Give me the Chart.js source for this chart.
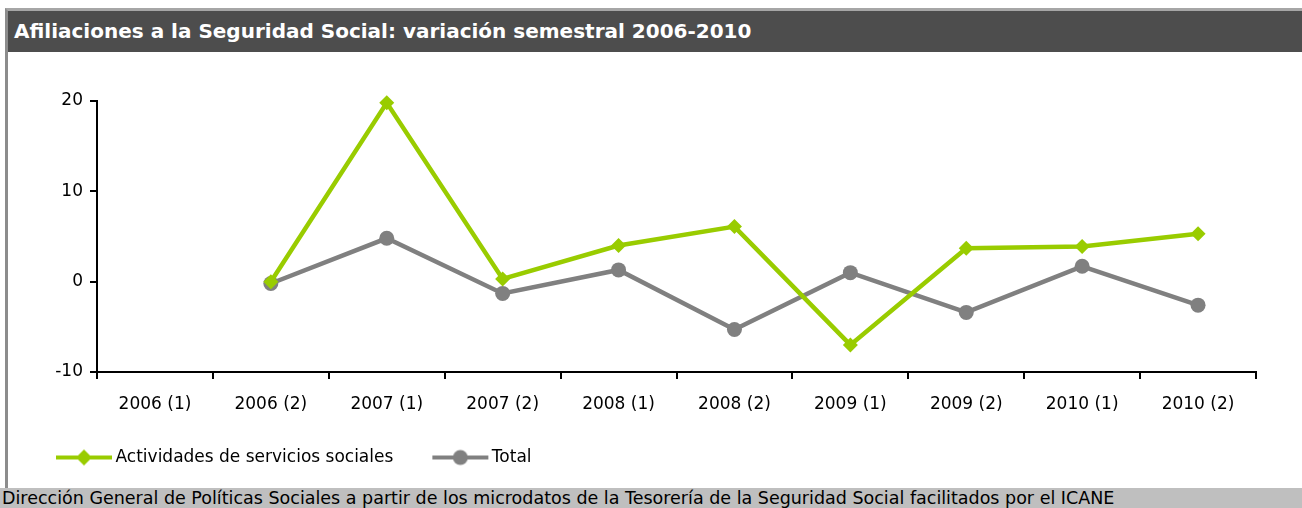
<!DOCTYPE html>
<html>
<head>
<meta charset="utf-8">
<script src="https://cdn.jsdelivr.net/npm/chart.js@4.4.1/dist/chart.umd.min.js"></script>
<style>
  html, body { margin: 0; padding: 0; background: #fff; }
  body { width: 1302px; height: 508px; position: relative; overflow: hidden; font-family: "DejaVu Sans", sans-serif; }
  #frame { position: absolute; left: 5px; top: 8px; width: 1297px; height: 480px; border-left: 3px solid #8c8c8c; border-top: 3px solid #a6a6a6; box-sizing: border-box; }
  #title { position: absolute; left: 8px; top: 11px; width: 1294px; height: 41px; background: #4d4d4d; color: #fff; font-weight: bold; font-size: 20px; line-height: 41px; padding-left: 6px; box-sizing: border-box; white-space: nowrap; }
  #wrap { position: absolute; left: 8px; top: 52px; width: 1294px; height: 436px; }
  #footer { position: absolute; left: 0; top: 488px; width: 1302px; height: 20px; background: #bfbfbf; color: #000; font-size: 17.5px; line-height: 21px; padding-left: 2px; box-sizing: border-box; white-space: nowrap; }
</style>
</head>
<body>
<div id="frame"></div>
<div id="title">Afiliaciones a la Seguridad Social: variación semestral 2006-2010</div>
<div id="wrap"><canvas id="chart" width="1294" height="436"></canvas></div>
<div id="footer">Dirección General de Políticas Sociales a partir de los microdatos de la Tesorería de la Seguridad Social facilitados por el ICANE</div>
<script>
const periods = ['2006 (1)', '2006 (2)', '2007 (1)', '2007 (2)', '2008 (1)', '2008 (2)', '2009 (1)', '2009 (2)', '2010 (1)', '2010 (2)'];
const serviciosSociales = [null, 0.0, 19.8, 0.3, 4.0, 6.1, -7.0, 3.7, 3.9, 5.3];
const total = [null, -0.2, 4.8, -1.3, 1.3, -5.3, 1.0, -3.4, 1.7, -2.6];
const yTicks = [-10, 0, 10, 20];

const green = '#99cc00';
const grey = '#808080';

// little line + marker picture for the legend
function legendIcon(color, shape) {
  const c = document.createElement('canvas');
  c.width = 58; c.height = 18;
  const g = c.getContext('2d');
  g.strokeStyle = color; g.fillStyle = color; g.lineWidth = 4;
  g.beginPath(); g.moveTo(1, 9); g.lineTo(57, 9); g.stroke();
  g.beginPath();
  if (shape === 'diamond') {
    g.moveTo(29, 1); g.lineTo(37, 9); g.lineTo(29, 17); g.lineTo(21, 9);
  } else {
    g.arc(29, 9, 7.5, 0, Math.PI * 2);
  }
  g.closePath(); g.fill();
  return c;
}

const font = { family: '"DejaVu Sans", sans-serif', size: 17 };

// the x labels need a tall axis box, so pull the legend back up under them
const legendUp = {
  id: 'legendUp',
  afterLayout(chart) {
    chart.legend.top -= 12;
    chart.legend.bottom -= 12;
  }
};

new Chart(document.getElementById('chart'), {
  type: 'line',
  data: {
    labels: periods,
    datasets: [{
      label: 'Actividades de servicios sociales',
      data: serviciosSociales,
      borderColor: green,
      backgroundColor: green,
      borderWidth: 4.5,
      pointStyle: 'rectRot',
      pointRadius: 7.5,
      pointHoverRadius: 7.5,
      pointBorderWidth: 0,
      tension: 0,
      clip: false
    }, {
      label: 'Total',
      data: total,
      borderColor: grey,
      backgroundColor: grey,
      borderWidth: 4.5,
      pointStyle: 'circle',
      pointRadius: 7.5,
      pointHoverRadius: 7.5,
      pointBorderWidth: 0,
      tension: 0,
      clip: false
    }]
  },
  options: {
    responsive: false,
    animation: false,
    layout: { padding: { top: 49, right: 46, left: 9, bottom: 0 } },
    scales: {
      x: {
        offset: true,
        grid: { offset: true, drawOnChartArea: false, drawTicks: true, tickLength: 7, color: '#000', lineWidth: 2 },
        border: { color: '#000', width: 2 },
        ticks: { color: '#000', font: font, padding: 15, maxRotation: 0 },
        afterFit: function(scale) { scale.height = 45; }
      },
      y: {
        min: -10,
        max: 20,
        afterBuildTicks: function(scale) { scale.ticks = yTicks.map(v => ({ value: v })); },
        grid: { drawOnChartArea: false, drawTicks: true, tickLength: 7, color: '#000', lineWidth: 2 },
        border: { color: '#000', width: 2 },
        ticks: { color: '#000', font: font, padding: 7 },
        afterFit: function(scale) { scale.width = 80; }
      }
    },
    plugins: {
      legend: {
        position: 'bottom',
        align: 'start',
        labels: {
          color: '#000',
          font: font,
          usePointStyle: true,
          pointStyleWidth: 46,
          padding: 44,
          generateLabels: function(chart) {
            return chart.data.datasets.map((ds, i) => ({
              text: ds.label,
              datasetIndex: i,
              pointStyle: legendIcon(ds.borderColor, i === 0 ? 'diamond' : 'circle'),
              fillStyle: ds.borderColor,
              strokeStyle: ds.borderColor,
              lineWidth: 0,
              fontColor: '#000'
            }));
          }
        }
      },
      tooltip: { enabled: false }
    }
  },
  plugins: [legendUp]
});
</script>
</body>
</html>
